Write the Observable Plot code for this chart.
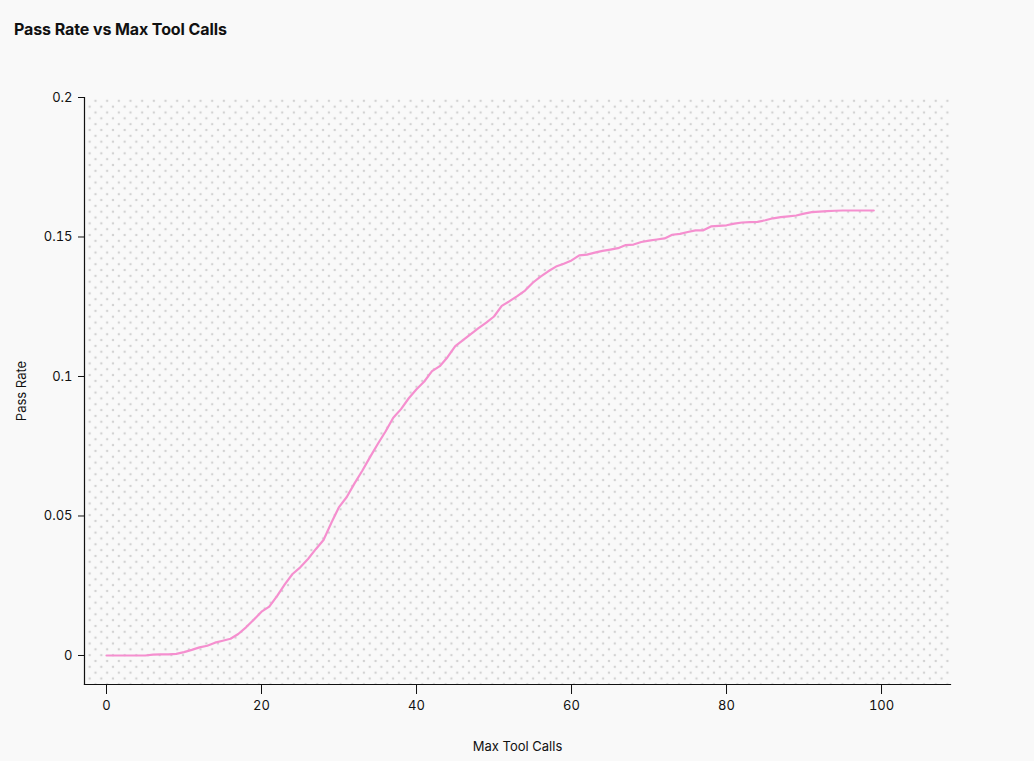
<!DOCTYPE html>
<html>
<head>
<meta charset="utf-8">
<script src="https://cdn.jsdelivr.net/npm/d3@7"></script>
<script src="https://cdn.jsdelivr.net/npm/@observablehq/plot@0.6"></script>
<style>
  html, body { margin: 0; padding: 0; background: #f9f9f9; }
  body { width: 1034px; height: 761px; overflow: hidden; font-family: Inter, "Liberation Sans", sans-serif; }
  #title { height: 56px; box-sizing: border-box; padding: 19px 0 0 14px; font-size: 16px; font-weight: 700; color: #111; letter-spacing: -0.1px; }
  svg { display: block; }
</style>
</head>
<body>
<div id="title">Pass Rate vs Max Tool Calls</div>
<div id="chart"></div>
<script>
const maxToolCalls = d3.range(0, 100);
const passRate = [
  0, 0, 0, 0, 0, 0, 0.0003, 0.0004, 0.0004, 0.0006,
  0.0012, 0.002, 0.0029, 0.0035, 0.0046, 0.0053, 0.006, 0.0077, 0.0101, 0.0128,
  0.0157, 0.0175, 0.0213, 0.0255, 0.0292, 0.0316, 0.0346, 0.0381, 0.0414, 0.0475,
  0.0532, 0.0568, 0.0617, 0.0662, 0.0711, 0.0758, 0.0803, 0.0852, 0.0883, 0.0922,
  0.0954, 0.0982, 0.1019, 0.1037, 0.1069, 0.1109, 0.1130, 0.1152, 0.1173, 0.1193,
  0.1215, 0.1253, 0.1270, 0.1288, 0.1308, 0.1336, 0.1358, 0.1377, 0.1394, 0.1404,
  0.1416, 0.1434, 0.1437, 0.1444, 0.1450, 0.1455, 0.1460, 0.1471, 0.1473, 0.1482,
  0.1487, 0.1491, 0.1495, 0.1508, 0.1511, 0.1518, 0.1524, 0.1524, 0.1538, 0.1540,
  0.1542, 0.1548, 0.1552, 0.1553, 0.1554, 0.1560, 0.1567, 0.1571, 0.1574, 0.1577,
  0.1584, 0.1589, 0.1591, 0.1593, 0.1594, 0.1595, 0.1595, 0.1595, 0.1595, 0.1595
];
const xTicks = [0, 20, 40, 60, 80, 100];
const yTicks = [0, 0.05, 0.1, 0.15, 0.2];

const data = maxToolCalls.map((x, i) => ({x, y: passRate[i]}));

const chart = Plot.plot({
  width: 1034,
  height: 705,
  marginTop: 41,
  marginBottom: 77,
  marginLeft: 84,
  marginRight: 84,
  style: {background: "transparent", fontFamily: "Inter, 'Liberation Sans', sans-serif", fontSize: "13px", color: "#111"},
  x: {domain: [-2.84, 108.9], ticks: xTicks},
  y: {domain: [-0.0104, 0.2], ticks: yTicks},
  marks: [
    Plot.frame({fill: "url(#dots)", stroke: null}),
    Plot.axisX({ticks: xTicks, tickSize: 10, tickPadding: 6, label: "Max Tool Calls", labelAnchor: "center", labelArrow: "none", labelOffset: 66, stroke: "#111", fontSize: 13}),
    Plot.axisY({ticks: yTicks, tickSize: 6, tickPadding: 6, tickFormat: d => String(d), label: "Pass Rate", labelAnchor: "center", labelArrow: "none", labelOffset: 68, stroke: "#111", fontSize: 13}),
    Plot.frame({anchor: "left", stroke: "#111", strokeWidth: 1.2}),
    Plot.frame({anchor: "bottom", stroke: "#111", strokeWidth: 1.2}),
    Plot.line(data, {x: "x", y: "y", stroke: "#f58fcf", strokeWidth: 2.2, curve: "linear"})
  ]
});

const ns = "http://www.w3.org/2000/svg";
const defs = document.createElementNS(ns, "defs");
const pat = document.createElementNS(ns, "pattern");
const tile = 11.67;
pat.setAttribute("id", "dots");
pat.setAttribute("patternUnits", "userSpaceOnUse");
pat.setAttribute("width", tile);
pat.setAttribute("height", tile);
pat.setAttribute("x", 95 - 2.9);
pat.setAttribute("y", 44.3 - 2.9);
for (const [cx, cy] of [[2.9, 2.9], [2.9 + tile / 2, 2.9 + tile / 2]]) {
  const c = document.createElementNS(ns, "circle");
  c.setAttribute("cx", cx);
  c.setAttribute("cy", cy);
  c.setAttribute("r", 1.25);
  c.setAttribute("fill", "#d2d2d2");
  pat.appendChild(c);
}
defs.appendChild(pat);
chart.insertBefore(defs, chart.firstChild);
document.getElementById("chart").appendChild(chart);
</script>
</body>
</html>
